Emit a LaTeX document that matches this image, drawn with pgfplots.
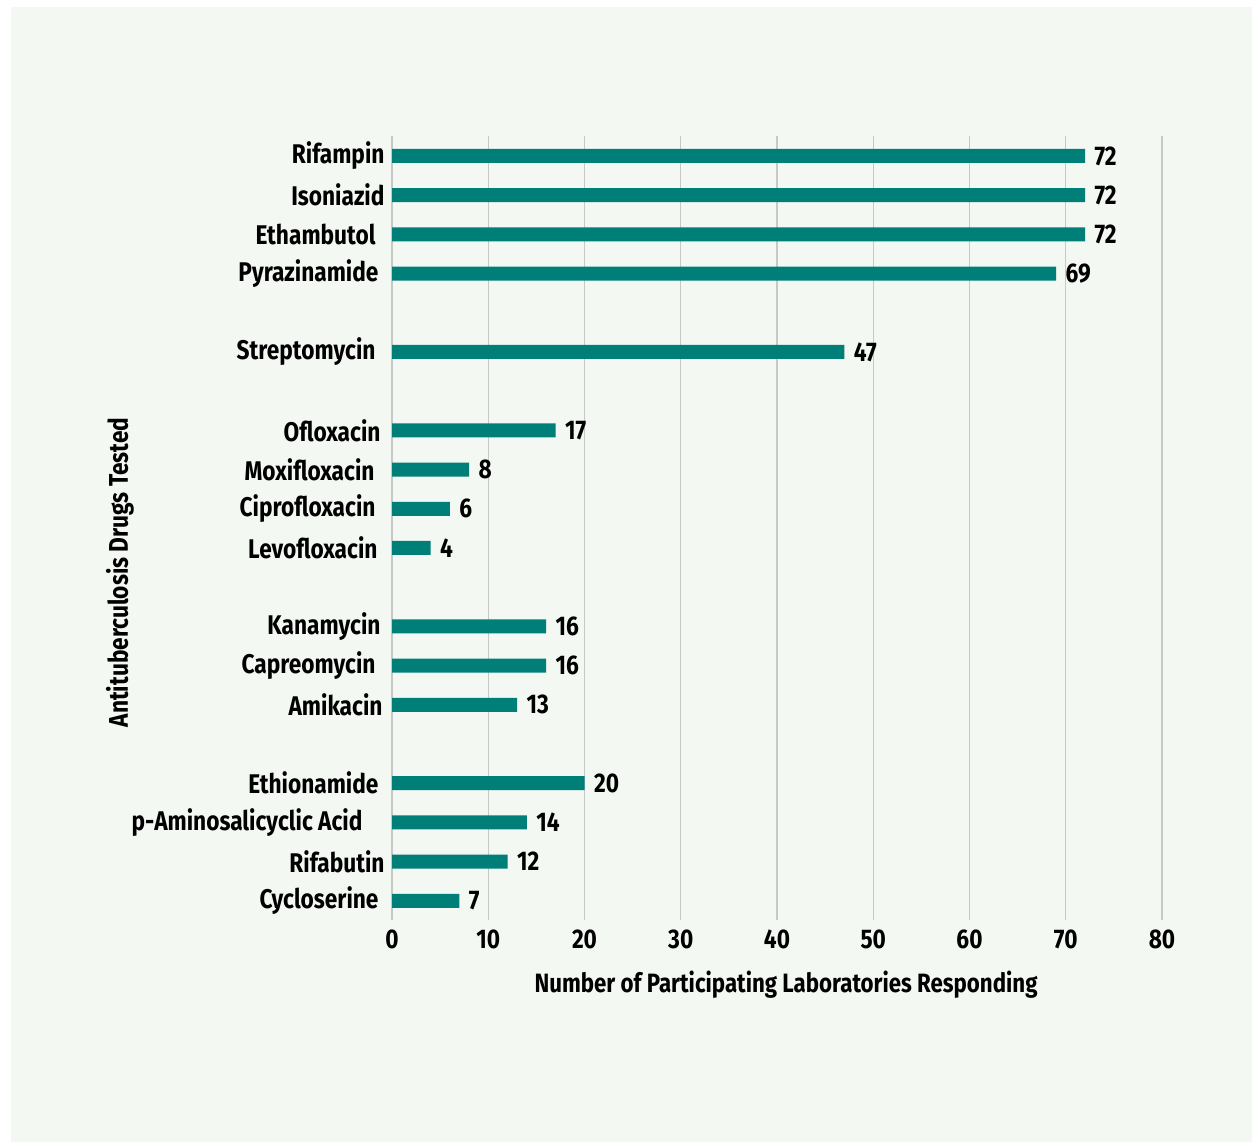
\documentclass[border=0pt]{standalone}
\usepackage{fontspec}
\setmainfont{Fira Sans}[FakeStretch=0.84]
\usepackage{pgfplots}
\pgfplotsset{compat=1.18}
\definecolor{panel}{HTML}{F3F8F2}
\definecolor{barc}{HTML}{007F78}
\definecolor{gridc}{HTML}{C8C8C8}
\newcommand{\lf}{\fontsize{27bp}{31bp}\selectfont\bfseries}
\newcommand{\xf}{\fontsize{26.5bp}{31bp}\selectfont\bfseries}
\pgfplotsset{/pgf/number format/assume math mode=true}
\begin{document}
\begin{tikzpicture}[x=1bp,y=1bp]
\fill[white] (0,0) rectangle (1254,1144);
\fill[panel] (11,2) rectangle (1252,1137);
\useasboundingbox (0,0) rectangle (1254,1144);
\begin{axis}[
  at={(392bp,223.6bp)}, anchor=south west,
  scale only axis, width=770bp, height=784bp,
  xmin=0, xmax=80, ymin=-0.5, ymax=19.5, y dir=reverse,
  xtick={0,10,...,80},
  ytick={0,1,2,3,5,7,8,9,10,12,13,14,16,17,18,19},
  yticklabels={Rifampin,Isoniazid,{Ethambutol\hspace*{9bp}},{Pyrazinamide\hspace*{6bp}},{Streptomycin\hspace*{9bp}},{Ofloxacin\hspace*{4bp}},{Moxifloxacin\hspace*{10bp}},{Ciprofloxacin\hspace*{9bp}},{Levofloxacin\hspace*{7bp}},{Kanamycin\hspace*{4bp}},{Capreomycin\hspace*{9bp}},{Amikacin\hspace*{2bp}},{Ethionamide\hspace*{6bp}},{p-Aminosalicyclic Acid\hspace*{22bp}},Rifabutin,{Cycloserine\hspace*{6bp}}},
  xmajorgrids, grid style={gridc, line width=1.3bp},
  axis line style={draw=none},
  major tick length=0pt,
  tick label style={font=\lf, text=black},
  yticklabel style={anchor=east, xshift=-4bp},
  xticklabel style={yshift=-6bp},
  xlabel={Number of Participating Laboratories Responding},
  xlabel style={font=\xf, at={([yshift=-64.6bp]axis description cs:0.5117,0)}, anchor=center},
  ylabel={Antituberculosis Drugs Tested},
  ylabel style={font=\lf, at={([xshift=-272bp]axis description cs:0,0.4437)}, anchor=center, rotate=0},
  point meta=x,
  nodes near coords,
  every node near coord/.append style={font=\lf, anchor=west, xshift=6bp, text=black},
]
\addplot[xbar, bar width=14bp, fill=barc, draw=none, bar shift=0pt] coordinates {
(72,0) (72,1) (72,2) (69,3) (47,5)
(17,7) (8,8) (6,9) (4,10)
(16,12) (16,13) (13,14)
(20,16) (14,17) (12,18) (7,19)
};
\end{axis}
\end{tikzpicture}
\end{document}
